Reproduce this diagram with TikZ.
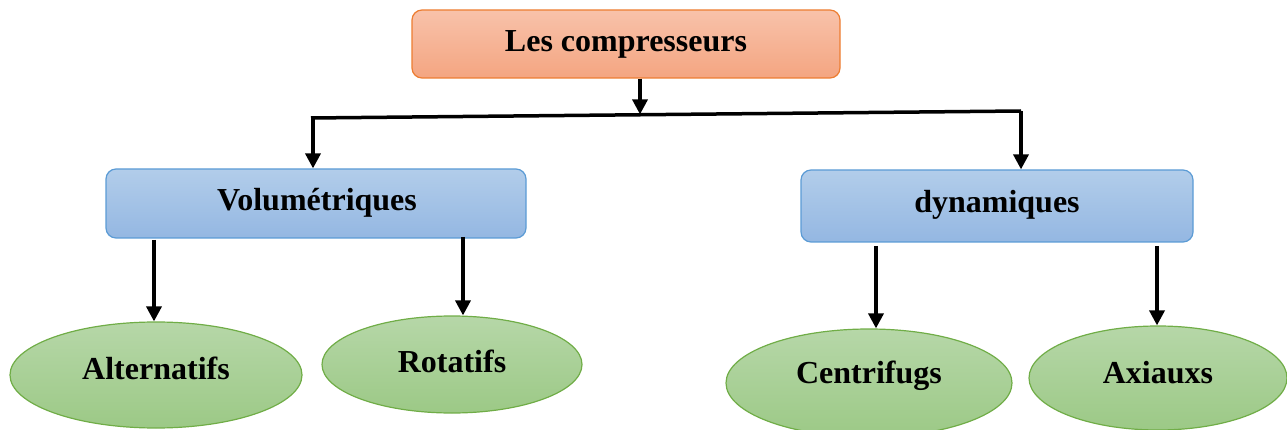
\documentclass[tikz,border=0pt]{standalone}
\usepackage{fontspec}
\setmainfont{Liberation Serif}
\usetikzlibrary{shapes.geometric,arrows.meta,calc}
\definecolor{orT}{HTML}{F8C2AA}
\definecolor{orB}{HTML}{F4A581}
\definecolor{orD}{HTML}{ED7D31}
\definecolor{blT}{HTML}{B2CDEA}
\definecolor{blB}{HTML}{94B7E2}
\definecolor{blD}{HTML}{5B9BD5}
\definecolor{grT}{HTML}{B6D7A8}
\definecolor{grB}{HTML}{9CC986}
\definecolor{grD}{HTML}{70AD47}
\tikzset{
  lbl/.style={font=\fontsize{32}{36}\selectfont\bfseries, text=black},
  obox/.style={draw=orD, line width=1.2pt, rounded corners=10pt, top color=orT, bottom color=orB, minimum height=68pt},
  bbox/.style={draw=blD, line width=1.2pt, rounded corners=10pt, top color=blT, bottom color=blB},
  gell/.style={ellipse, draw=grD, line width=1.2pt, top color=grT, bottom color=grB, inner sep=0pt},
  arr/.style={line width=3.5pt, -{Triangle[width=15pt,length=15pt]}},
  bar/.style={line width=3.5pt}
}
\begin{document}
\begin{tikzpicture}[x=1pt,y=-1pt]
\useasboundingbox (0,0) rectangle (1287,430);
% boxes
\node[obox, minimum width=428pt] (top) at (626,44) {};
\node[lbl] (toptxt) at (626,44) {Les compresseurs};
\node[bbox, minimum width=420pt, minimum height=69pt] (vol) at (316,203.5) {};
\node[lbl] (voltxt) at (317,203) {Volumétriques};
\node[bbox, minimum width=392pt, minimum height=72pt] (dyn) at (997,206) {};
\node[lbl] (dyntxt) at (997,205) {dynamiques};
% ellipses
\node[gell, minimum width=292pt, minimum height=106pt] (alt) at (156,375) {};
\node[lbl] (alttxt) at (156,368) {Alternatifs};
\node[gell, minimum width=260pt, minimum height=97pt] (rot) at (452,364.5) {};
\node[lbl] (rottxt) at (452,361) {Rotatifs};
\node[gell, minimum width=286pt, minimum height=108pt] (cen) at (869,383) {};
\node[lbl] (centxt) at (869,376) {Centrifugs};
\node[gell, minimum width=258pt, minimum height=104pt] (axi) at (1158,378) {};
\node[lbl] (axitxt) at (1158,373) {Axiauxs};
% junction line
\coordinate (L) at (311,118);
\coordinate (R) at (1021,111);
\coordinate (J) at (640,114.4);
\coordinate (Ls) at (313,117.9);
\draw[bar] (L) -- (R);
\draw[arr] (top.south -| J) -- (J);
\draw[arr] (Ls) -- (Ls |- vol.north);
\draw[arr] (R) -- (R |- dyn.north);
% lower arrows
\coordinate (a1) at (154,240);
\coordinate (a2) at (463,237);
\coordinate (a3) at (876,246);
\coordinate (a4) at (1157,246);
\draw[arr] (a1) -- (alt.north -| a1);
\draw[arr] (a2) -- (rot.north -| a2);
\draw[arr] (a3) -- (cen.north -| a3);
\draw[arr] (a4) -- (axi.north -| a4);
\end{tikzpicture}
\end{document}
